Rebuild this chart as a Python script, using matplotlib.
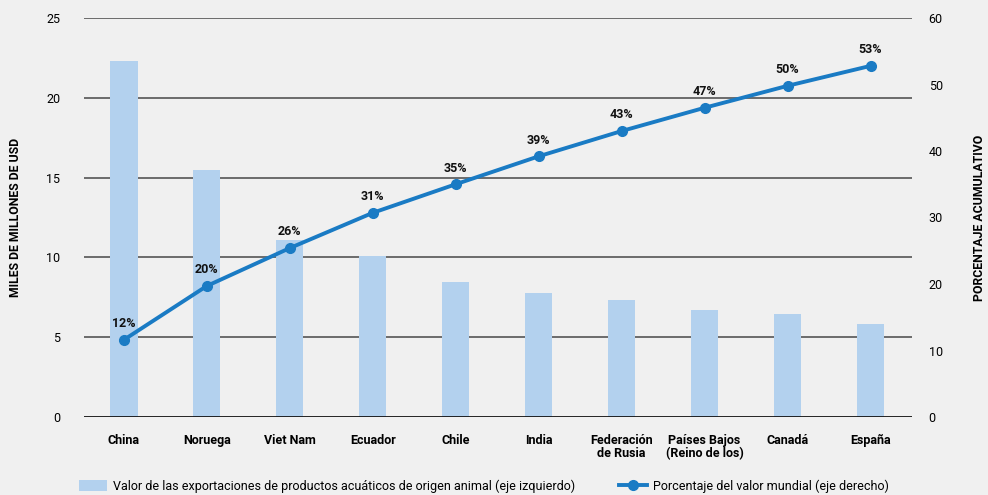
import matplotlib
matplotlib.use('Agg')
import matplotlib.pyplot as plt
from matplotlib.lines import Line2D
from matplotlib.patches import Patch
import numpy as np

plt.rcParams['font.family'] = ['Roboto', 'DejaVu Sans']

paises = ['China', 'Noruega', 'Viet Nam', 'Ecuador', 'Chile', 'India',
          'Federación\nde Rusia', 'Países Bajos\n(Reino de los)', 'Canadá', 'España']
valor_exportaciones = [22.3, 15.5, 11.1, 10.1, 8.45, 7.8, 7.3, 6.7, 6.45, 5.8]
porcentaje_acum = [11.6, 19.7, 25.4, 30.7, 35.0, 39.2, 43.0, 46.5, 49.8, 52.8]
etiquetas_pct = ['12%', '20%', '26%', '31%', '35%', '39%', '43%', '47%', '50%', '53%']

bg = '#f0f0f0'
bar_color = '#b3d1ee'
line_color = '#1a7bc4'

fig = plt.figure(figsize=(9.88, 4.95), dpi=100, facecolor=bg)
ax1 = fig.add_axes([84 / 988, 1 - 417 / 495, 828 / 988, 399 / 495])
ax1.set_facecolor(bg)
x = np.arange(len(paises))

ax1.bar(x, valor_exportaciones, width=0.33, color=bar_color, zorder=2)
ax1.set_xlim(-0.48, 9.5)
ax1.set_ylim(0, 25)
ax1.set_yticks([0, 5, 10, 15, 20, 25])
for t in [5, 10, 15, 20, 25]:
    ax1.axhline(t, color='#6b6b6b', lw=1.4, zorder=1)
ax1.axhline(0, color='#111111', lw=2, zorder=3)
ax1.set_xticks(x)
ax1.set_xticklabels(paises, fontsize=8.5, fontweight='bold', linespacing=1.0, va='top')
ax1.tick_params(axis='both', length=0, labelsize=9)
ax1.tick_params(axis='x', pad=12)
ax1.tick_params(axis='y', pad=17)
for s in ax1.spines.values():
    s.set_visible(False)
ax1.set_ylabel('MILES DE MILLONES DE USD', fontsize=8.8, fontweight='bold')
ax1.yaxis.set_label_coords(-0.075, 0.5)

ax2 = ax1.twinx()
ax2.set_ylim(0, 60)
ax2.set_yticks([0, 10, 20, 30, 40, 50, 60])
ax2.tick_params(axis='y', length=0, labelsize=9, pad=12)
for s in ax2.spines.values():
    s.set_visible(False)
ax2.plot(x, porcentaje_acum, color=line_color, lw=2.8, marker='o', ms=7, zorder=4)
for xi, yi, lab in zip(x, porcentaje_acum, etiquetas_pct):
    ax2.annotate(lab, (xi, yi), xytext=(0, 7), textcoords='offset points',
                 ha='center', va='bottom', fontsize=9, fontweight='bold', color='#111111')
ax2.set_ylabel('PORCENTAJE ACUMULATIVO', fontsize=8.8, fontweight='bold')
ax2.yaxis.set_label_coords(1.074, 0.5)

handles = [Patch(facecolor=bar_color, edgecolor='none'),
           Line2D([0], [0], color=line_color, lw=2.8, marker='o', ms=7)]
labels = ['Valor de las exportaciones de productos acuáticos de origen animal (eje izquierdo)',
          'Porcentaje del valor mundial (eje derecho)']
fig.legend(handles, labels, loc='center', bbox_to_anchor=(0.49, 1 - 486 / 495), ncol=2,
           frameon=False, fontsize=9, handlelength=2.2, columnspacing=3.5, handletextpad=0.5,
           handleheight=1.0)

fig.savefig('out.png', dpi=100, facecolor=bg)
